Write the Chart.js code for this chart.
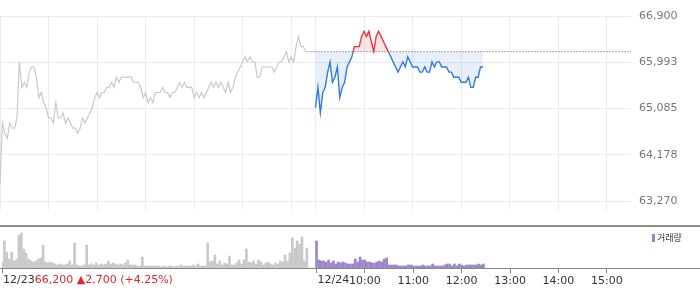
<!DOCTYPE html>
<html>
<head>
<meta charset="utf-8">
<script src="https://cdn.jsdelivr.net/npm/chart.js@4.4.1/dist/chart.umd.min.js"></script>
<style>
  body { margin: 0; background: #fff; width: 700px; height: 289px; overflow: hidden; position: relative; font-family: "DejaVu Sans", "Noto Sans CJK KR", sans-serif; }
  #priceWrap { position: absolute; left: 0; top: 0; width: 700px; height: 225px; }
  #volWrap { position: absolute; left: 0; top: 225px; width: 700px; height: 64px; }
  #volLegend { position: absolute; left: 652px; top: 232px; font-size: 9px; color: #333; font-family: "Noto Sans CJK KR", sans-serif; line-height: 11px; }
  #volLegend span { display: inline-block; width: 3px; height: 8px; background: #9b86c9; margin-right: 2px; vertical-align: -1px; }
</style>
</head>
<body>
<div id="priceWrap"><canvas id="priceChart" width="700" height="225"></canvas></div>
<div id="volWrap"><canvas id="volChart" width="700" height="64"></canvas></div>
<div id="volLegend"><span></span>거래량</div>
<script>
// 12/23 (previous day) and 12/24 intraday, one point every 3 minutes from 09:00
const prevDate = "12/23";
const todayDate = "12/24";
const prevClose = 66200;
const prevChange = 2700;
const prevChangePct = 4.25;
const stepMin = 3;
const sessionMin = 390; // 09:00 - 15:30

const prevPrices = [
  63600, 64800, 64600, 64500, 64800, 64700, 64700, 64900, 66000, 65500,
  65600, 65500, 65800, 65900, 65900, 65700, 65300, 65400, 65200, 65100,
  64900, 64900, 64800, 65200, 64900, 64900, 65000, 64800, 64900, 64800,
  64700, 64700, 64600, 64700, 64900, 64800, 64900, 65000, 65100, 65300,
  65400, 65300, 65400, 65400, 65500, 65500, 65600, 65500, 65700, 65600,
  65700, 65700, 65700, 65700, 65700, 65600, 65600, 65600, 65500, 65300,
  65400, 65200, 65300, 65200, 65400, 65400, 65400, 65500, 65400, 65400,
  65300, 65400, 65400, 65500, 65600, 65500, 65600, 65500, 65500, 65500,
  65300, 65400, 65300, 65400, 65300, 65400, 65500, 65600, 65500, 65600,
  65500, 65600, 65500, 65400, 65600, 65400, 65500, 65700, 65800, 65900,
  66000, 66100, 66000, 66100, 66000, 66000, 65700, 65700, 65900, 65900,
  65900, 65900, 65900, 65800, 65900, 66000, 66000, 66100, 66200, 66000,
  66100, 66000, 66300, 66500, 66300, 66300, 66200, 66200, 66200, 66200,
  66200
];

const todayPrices = [
  65100, 65500, 65000, 65400, 65500, 65800, 66000, 65600, 65700, 65900,
  65300, 65500, 65600, 65900, 66000, 66100, 66300, 66300, 66300, 66500,
  66600, 66500, 66600, 66400, 66200, 66500, 66600, 66500, 66400, 66300,
  66200, 66100, 66000, 65900, 65800, 65900, 66000, 65900, 66100, 66000,
  65900, 65900, 65900, 65800, 65800, 65900, 65800, 65800, 66000, 65900,
  66000, 66000, 65900, 65900, 65900, 65800, 65800, 65700, 65700, 65700,
  65600, 65600, 65600, 65700, 65500, 65500, 65700, 65700, 65900, 65900
];

const prevVolumes = [
  6, 27, 16, 9, 16, 7, 9, 33, 35, 19,
  15, 9, 7, 6, 7, 9, 10, 23, 6, 5,
  6, 5, 4, 3, 4, 3, 3, 4, 7, 3,
  25, 3, 2, 2, 3, 23, 3, 4, 3, 5,
  3, 4, 3, 4, 7, 4, 5, 4, 3, 4,
  3, 5, 8, 3, 3, 3, 2, 2, 11, 2,
  2, 2, 2, 2, 2, 2, 1, 2, 1, 2,
  2, 1, 2, 2, 3, 2, 2, 2, 2, 3,
  2, 4, 2, 2, 2, 25, 6, 7, 13, 4,
  7, 3, 5, 4, 12, 3, 3, 5, 8, 4,
  8, 19, 6, 5, 7, 4, 8, 6, 3, 5,
  6, 4, 3, 5, 4, 7, 6, 13, 7, 15,
  30, 20, 27, 24, 31, 7, 20, 0, 0, 0
];

const todayVolumes = [
  27, 8, 7, 7, 6, 8, 5, 7, 4, 6,
  5, 6, 5, 4, 4, 4, 9, 6, 11, 8,
  8, 6, 6, 5, 5, 6, 7, 6, 9, 10,
  3, 3, 3, 3, 2, 2, 2, 2, 3, 3,
  2, 2, 2, 2, 3, 2, 2, 2, 4, 2,
  2, 2, 2, 3, 4, 4, 2, 4, 2, 4,
  3, 2, 3, 3, 3, 3, 3, 4, 3, 4
];

const priceTicks = [63270, 64178, 65085, 65993, 66900];
const hourLabels = ["10:00", "11:00", "12:00", "13:00", "14:00", "15:00"];
const prevHourGrid = [0, 60, 120, 180, 240, 300, 360];

const upColor = "#f0333d";
const downColor = "#2f7be0";
const gridColor = "#ececec";
const fontFamily = '"DejaVu Sans", sans-serif';

// "HH:MM" of today -> minutes on the two-day axis
function todayMin(label) {
  const [h, m] = label.split(":").map(Number);
  return sessionMin + (h - 9) * 60 + m;
}

const hourMins = hourLabels.map(todayMin);
const xMax = sessionMin * 2;

const prevLine = prevPrices.map((p, i) => ({ x: i * stepMin, y: p }));
const todayLine = todayPrices.map((p, i) => ({ x: sessionMin + i * stepMin, y: p }));

// price range: bottom of the plot sits a little under the lowest tick
const yTop = priceTicks[priceTicks.length - 1];
const yBottom = priceTicks[0] - (yTop - priceTicks[0]) * 10 / 199;

function splitColor(c) {
  const { chart } = c;
  const { ctx, chartArea, scales } = chart;
  if (!chartArea) return downColor;
  const yb = scales.y.getPixelForValue(prevClose);
  const t = Math.min(1, Math.max(0, (yb - chartArea.top) / (chartArea.bottom - chartArea.top)));
  const g = ctx.createLinearGradient(0, chartArea.top, 0, chartArea.bottom);
  g.addColorStop(0, upColor);
  g.addColorStop(t, upColor);
  g.addColorStop(t, downColor);
  g.addColorStop(1, downColor);
  return g;
}

new Chart(document.getElementById("priceChart"), {
  type: "line",
  data: {
    datasets: [
      {
        data: prevLine,
        borderColor: "#c9c9cc",
        borderWidth: 1.2,
        pointRadius: 0,
        fill: false,
      },
      {
        data: todayLine,
        borderColor: splitColor,
        borderWidth: 1.4,
        pointRadius: 0,
        fill: { value: prevClose, above: "rgba(240,51,61,0.13)", below: "rgba(47,123,224,0.12)" },
      },
      {
        data: [{ x: sessionMin, y: prevClose }, { x: xMax, y: prevClose }],
        borderColor: "#555",
        borderWidth: 1,
        borderDash: [1, 2],
        pointRadius: 0,
        fill: false,
      },
    ],
  },
  options: {
    responsive: false,
    animation: false,
    layout: { padding: { top: 16, left: 0, right: 0, bottom: 0 } },
    plugins: { legend: { display: false }, tooltip: { enabled: false } },
    scales: {
      x: {
        type: "linear",
        min: 0,
        max: xMax,
        afterBuildTicks: (s) => {
          s.ticks = prevHourGrid.concat([sessionMin], hourMins).map((v) => ({ value: v }));
        },
        afterFit: (s) => { s.height = 0; },
        ticks: { display: false },
        grid: { color: gridColor, drawTicks: false },
        border: { display: false },
      },
      y: {
        position: "right",
        min: yBottom,
        max: yTop,
        afterBuildTicks: (s) => { s.ticks = priceTicks.map((v) => ({ value: v })); },
        afterFit: (s) => { s.width = 69; },
        ticks: {
          color: "#777",
          padding: 8,
          font: { family: fontFamily, size: 11 },
          callback: (v) => Math.round(v).toLocaleString("en-US"),
        },
        grid: { color: gridColor, drawTicks: false },
        border: { display: false },
      },
    },
  },
});

const changeText = `${prevClose.toLocaleString("en-US")} \u25B2${prevChange.toLocaleString("en-US")} (+${prevChangePct.toFixed(2)}%)`;

const volumeDecor = {
  id: "volumeDecor",
  afterDraw(chart) {
    const { ctx, chartArea, scales } = chart;
    const x = scales.x;
    ctx.save();
    ctx.strokeStyle = "#8f8f8f";
    ctx.lineWidth = 2;
    ctx.beginPath();
    ctx.moveTo(0, 1);
    ctx.lineTo(chart.width, 1);
    ctx.stroke();
    ctx.lineWidth = 1;
    ctx.strokeStyle = "#888";
    ctx.beginPath();
    ctx.moveTo(0, chartArea.bottom + 0.5);
    ctx.lineTo(chart.width, chartArea.bottom + 0.5);
    ctx.stroke();

    ctx.font = "11px " + fontFamily;
    ctx.textBaseline = "top";
    const ty = x.top + 5 + 2;
    let px = x.getPixelForValue(0) + 1;
    ctx.fillStyle = "#333";
    ctx.fillText(prevDate, px, ty);
    px += ctx.measureText(prevDate).width;
    ctx.fillStyle = "#e8232a";
    ctx.fillText(changeText, px, ty);
    ctx.fillStyle = "#333";
    ctx.fillText(todayDate, x.getPixelForValue(sessionMin) + 1, ty);
    ctx.restore();
  },
};

new Chart(document.getElementById("volChart"), {
  type: "bar",
  data: {
    datasets: [
      {
        data: prevVolumes.map((v, i) => ({ x: i * stepMin, y: v })),
        backgroundColor: "#c9c9cc",
        barThickness: 2,
        grouped: false,
      },
      {
        data: todayVolumes.map((v, i) => ({ x: sessionMin + i * stepMin, y: v })),
        backgroundColor: "#9b86c9",
        barThickness: 2,
        grouped: false,
      },
    ],
  },
  options: {
    responsive: false,
    animation: false,
    layout: { padding: { top: 5, left: 0, right: 69, bottom: 0 } },
    plugins: { legend: { display: false }, tooltip: { enabled: false } },
    scales: {
      x: {
        type: "linear",
        offset: false,
        min: 0,
        max: xMax,
        afterBuildTicks: (s) => {
          s.ticks = [0, sessionMin].concat(hourMins).map((v) => ({ value: v }));
        },
        afterFit: (s) => { s.height = 21; },
        ticks: {
          color: "#333",
          padding: 2,
          maxRotation: 0,
          autoSkip: false,
          font: { family: fontFamily, size: 11 },
          callback: (v) => {
            const k = hourMins.indexOf(v);
            return k >= 0 ? hourLabels[k] : "";
          },
        },
        grid: { offset: false, drawOnChartArea: false, drawTicks: true, tickLength: 5, color: "#888" },
        border: { display: false },
      },
      y: { display: false, min: 0, max: 38 },
    },
  },
  plugins: [volumeDecor],
});
</script>
</body>
</html>
